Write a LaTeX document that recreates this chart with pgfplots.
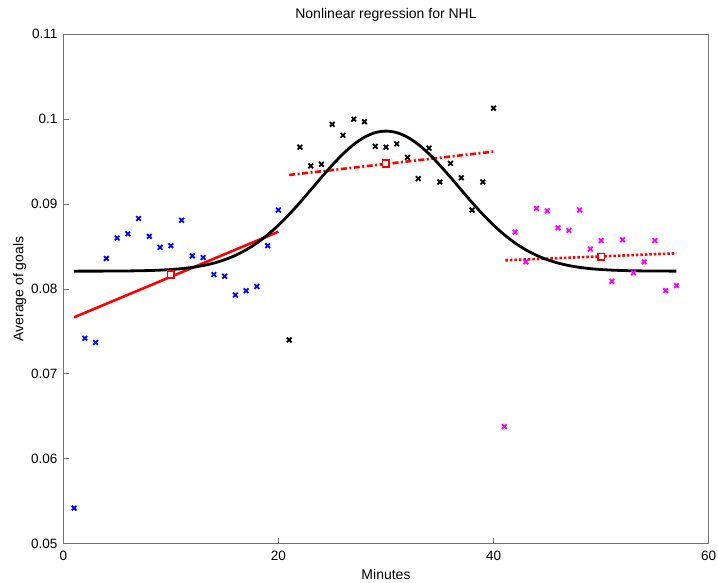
\documentclass[border=0pt]{standalone}
\usepackage{fontspec}
\setmainfont{Liberation Sans}
\usepackage{pgfplots}
\pgfplotsset{compat=1.18}
\definecolor{axgray}{gray}{0.45}
\definecolor{mmag}{rgb}{1,0,1}
\definecolor{mblue}{rgb}{0,0,1}
\definecolor{mred}{rgb}{1,0,0}
\begin{document}
\begin{tikzpicture}
\path[use as bounding box] (-63.3pt,-39.3pt) rectangle (654.7pt,543.7pt);
\begin{axis}[
  at={(0pt,0pt)}, anchor=south west,
  width=645.4pt, height=509.4pt, scale only axis,
  xmin=0, xmax=60, ymin=0.05, ymax=0.11,
  xtick={0,20,40,60},
  ytick={0.05,0.06,0.07,0.08,0.09,0.1,0.11},
  scaled y ticks=false,
  /pgf/number format/assume math mode=true,
  yticklabel style={/pgf/number format/fixed, /pgf/number format/precision=2, anchor=east, inner sep=0pt, xshift=-5.6pt},
  xtick pos=bottom, ytick pos=left,
  tick align=inside, major tick length=6pt,
  axis line style={axgray, line width=0.9pt},
  tick style={axgray, line width=0.8pt},
  ticklabel style={font=\fontsize{13.5}{16}\selectfont, text=black},
  xticklabel style={anchor=base, inner sep=0pt, yshift=-17.3pt},
  title={Nonlinear regression for NHL},
  title style={font=\fontsize{14}{16}\selectfont, at={(axis description cs:0.5,1.0202)}, anchor=base, inner sep=0pt},
  xlabel={Minutes},
  xlabel style={font=\fontsize{14}{16}\selectfont, at={(axis description cs:0.5,-0.0693)}, anchor=base, inner sep=0pt},
  ylabel={Average of goals},
  ylabel style={font=\fontsize{14}{16}\selectfont, at={(axis description cs:-0.062,0.5)}, anchor=base, inner sep=0pt},
  clip=false,
]
% scatter
\addplot[only marks, mark=x, mark size=3.3pt, color=mblue, mark options={line width=1.8pt}] coordinates {
(1,0.0542) (2,0.0742) (3,0.0737) (4,0.0836) (5,0.0860) (6,0.0865) (7,0.0883) (8,0.0862) (9,0.0849) (10,0.0851)
(11,0.0881) (12,0.0839) (13,0.0837) (14,0.0817) (15,0.0815) (16,0.0793) (17,0.0798) (18,0.0803) (19,0.0851) (20,0.0893)};
\addplot[only marks, mark=x, mark size=3.3pt, color=black, mark options={line width=1.8pt}] coordinates {
(21,0.0740) (22,0.0967) (23,0.0945) (24,0.0947) (25,0.0994) (26,0.0981) (27,0.1000) (28,0.0997) (29,0.0968) (30,0.0967)
(31,0.0971) (32,0.0955) (33,0.0930) (34,0.0966) (35,0.0926) (36,0.0948) (37,0.0931) (38,0.0893) (39,0.0926) (40,0.1013)};
\addplot[only marks, mark=x, mark size=3.3pt, color=mmag, mark options={line width=1.8pt}] coordinates {
(41,0.0638) (42,0.0867) (43,0.0832) (44,0.0895) (45,0.0892) (46,0.0872) (47,0.0869) (48,0.0893) (49,0.0847) (50,0.0857)
(51,0.0809) (52,0.0858) (53,0.0819) (54,0.0832) (55,0.0857) (56,0.0798) (57,0.0804)};
% red linear fits
\addplot[mred, line width=2.6pt, no marks] coordinates {(1,0.07666) (20,0.08675)};
\addplot[mred, line width=2.6pt, no marks, dash pattern=on 6pt off 2.5pt on 2pt off 2.5pt] coordinates {(21,0.09343) (40,0.09618)};
\addplot[mred, line width=2.6pt, no marks, dash pattern=on 2.5pt off 2pt] coordinates {(41.1,0.08338) (57,0.08420)};
% red squares
\addplot[only marks, mark=square*, mark size=3.4pt, mred, mark options={fill=white, line width=1.8pt}] coordinates {
(10,0.0817) (30,0.0948) (50,0.08377)};
% black nonlinear fit
\addplot[black, line width=2.8pt, no marks, smooth] coordinates {
(1,0.082101) (2,0.082103) (3,0.082105) (4,0.082109) (5,0.082116) (6,0.082127) (7,0.082146) (8,0.082175) (9,0.082221) (10,0.082292)
(11,0.082396) (12,0.082547) (13,0.082760) (14,0.083053) (15,0.083446) (16,0.083960) (17,0.084612) (18,0.085418) (19,0.086387) (20,0.087517)
(21,0.088794) (22,0.090189) (23,0.091660) (24,0.093150) (25,0.094590) (26,0.095907) (27,0.097026) (28,0.097881) (29,0.098417) (30,0.098600)
(31,0.098417) (32,0.097881) (33,0.097026) (34,0.095907) (35,0.094590) (36,0.093150) (37,0.091660) (38,0.090189) (39,0.088794) (40,0.087517)
(41,0.086387) (42,0.085418) (43,0.084612) (44,0.083960) (45,0.083446) (46,0.083053) (47,0.082760) (48,0.082547) (49,0.082396) (50,0.082292)
(51,0.082221) (52,0.082175) (53,0.082146) (54,0.082127) (55,0.082116) (56,0.082109) (57,0.082105)};
\end{axis}
\end{tikzpicture}
\end{document}
